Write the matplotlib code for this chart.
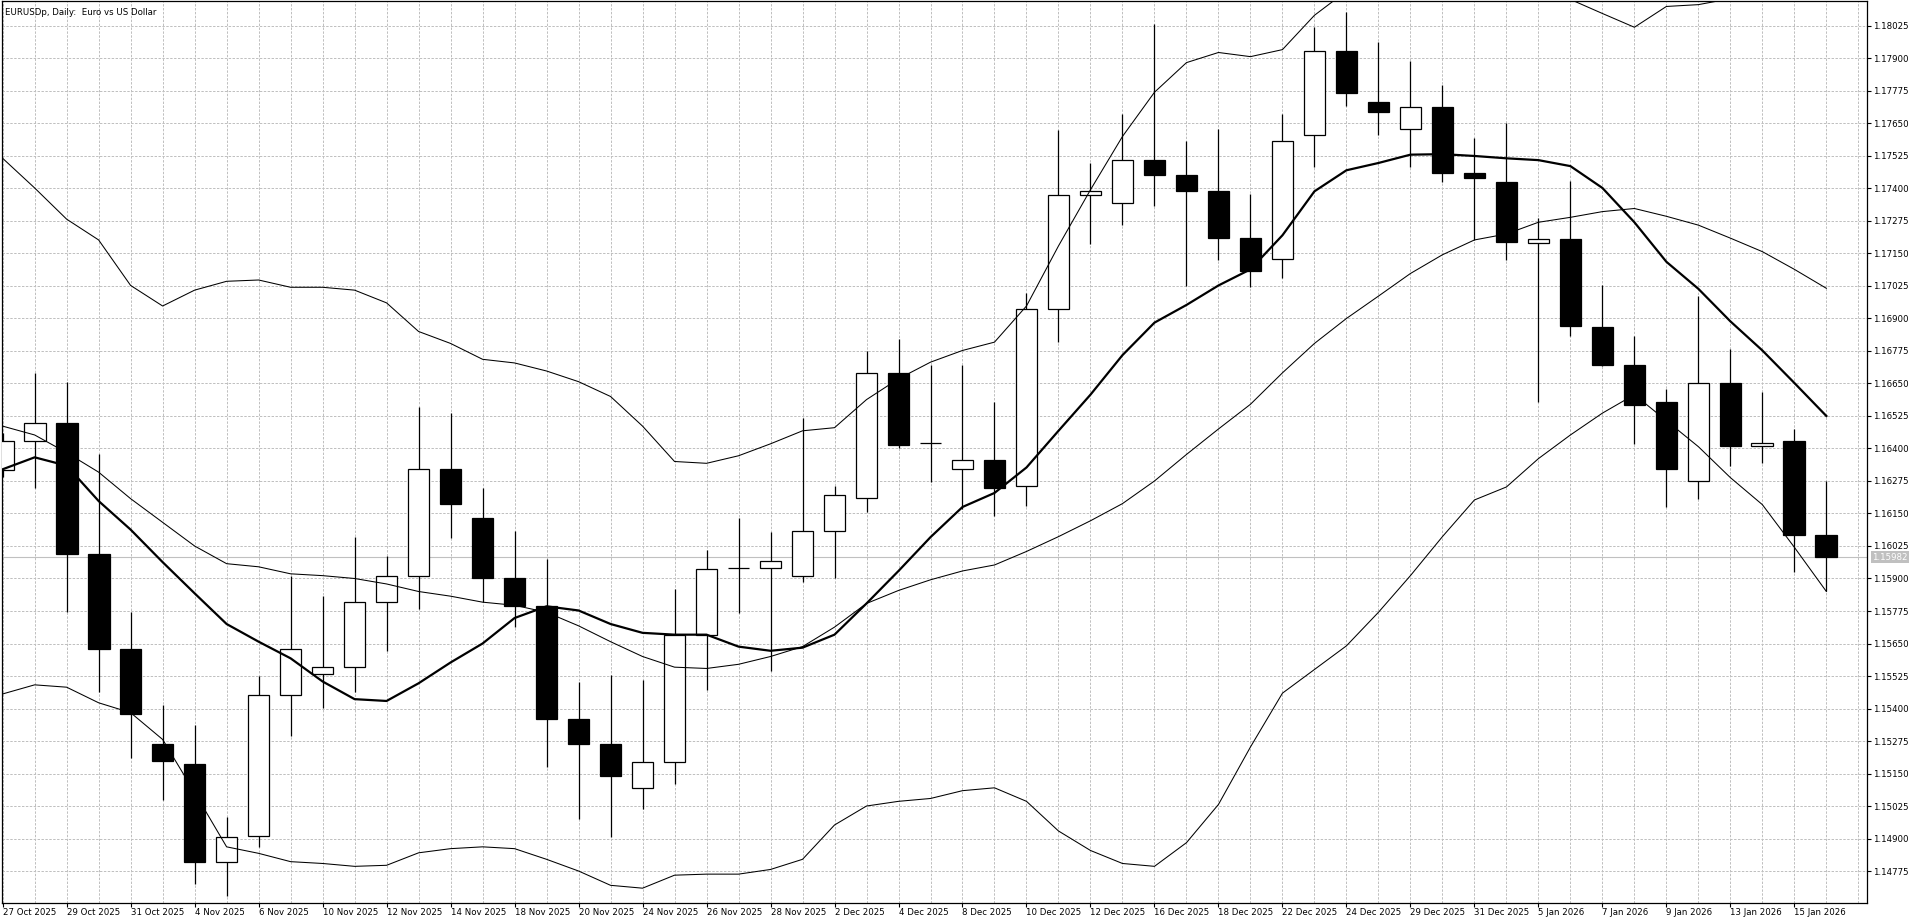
import matplotlib
matplotlib.use("Agg")
import matplotlib.pyplot as plt
import matplotlib.transforms as mtransforms
from datetime import datetime

# ---------- data ----------
dates = [
    "2025-10-27", "2025-10-28", "2025-10-29", "2025-10-30", "2025-10-31",
    "2025-11-03", "2025-11-04", "2025-11-05", "2025-11-06", "2025-11-07",
    "2025-11-10", "2025-11-11", "2025-11-12", "2025-11-13", "2025-11-14",
    "2025-11-17", "2025-11-18", "2025-11-19", "2025-11-20", "2025-11-21",
    "2025-11-24", "2025-11-25", "2025-11-26", "2025-11-27", "2025-11-28",
    "2025-12-01", "2025-12-02", "2025-12-03", "2025-12-04", "2025-12-05",
    "2025-12-08", "2025-12-09", "2025-12-10", "2025-12-11", "2025-12-12",
    "2025-12-15", "2025-12-16", "2025-12-17", "2025-12-18", "2025-12-19",
    "2025-12-22", "2025-12-23", "2025-12-24", "2025-12-26", "2025-12-29",
    "2025-12-30", "2025-12-31", "2026-01-02", "2026-01-05", "2026-01-06",
    "2026-01-07", "2026-01-08", "2026-01-09", "2026-01-12", "2026-01-13",
    "2026-01-14", "2026-01-15", "2026-01-16",
]

opens = [
    1.16316, 1.16429, 1.16498, 1.15993, 1.15629, 1.15263, 1.15186, 1.14811, 1.14911, 1.15452,
    1.15532, 1.15559, 1.15809, 1.15911, 1.16322, 1.16134, 1.15902, 1.15793, 1.15361, 1.15263,
    1.15095, 1.15195, 1.15684, 1.15940, 1.15941, 1.15911, 1.16082, 1.16209, 1.16691, 1.16423,
    1.16320, 1.16357, 1.16257, 1.16936, 1.17373, 1.17345, 1.17509, 1.17452, 1.17389, 1.17209,
    1.17129, 1.17607, 1.17930, 1.17732, 1.17630, 1.17714, 1.17461, 1.17423, 1.17189, 1.17207,
    1.16868, 1.16720, 1.16577, 1.16275, 1.16652, 1.16411, 1.16429, 1.16066,
]
highs = [
    1.16460, 1.16691, 1.16657, 1.16377, 1.15770, 1.15413, 1.15338, 1.14981, 1.15525, 1.15911,
    1.15834, 1.16061, 1.15986, 1.16561, 1.16536, 1.16248, 1.16082, 1.15975, 1.15502, 1.15527,
    1.15509, 1.15861, 1.16009, 1.16134, 1.16077, 1.16516, 1.16254, 1.16775, 1.16820, 1.16720,
    1.16720, 1.16577, 1.16998, 1.17623, 1.17498, 1.17686, 1.18032, 1.17582, 1.17627, 1.17379,
    1.17686, 1.18020, 1.18077, 1.17964, 1.17889, 1.17798, 1.17593, 1.17650, 1.17286, 1.17430,
    1.17027, 1.16832, 1.16627, 1.16986, 1.16782, 1.16618, 1.16475, 1.16275,
]
lows = [
    1.16290, 1.16248, 1.15770, 1.15463, 1.15209, 1.15047, 1.14725, 1.14679, 1.14868, 1.15293,
    1.15402, 1.15463, 1.15622, 1.15782, 1.16054, 1.15809, 1.15713, 1.15175, 1.14975, 1.14906,
    1.15013, 1.15111, 1.15470, 1.15766, 1.15543, 1.15888, 1.15902, 1.16157, 1.16400, 1.16270,
    1.16168, 1.16141, 1.16179, 1.16809, 1.17186, 1.17259, 1.17334, 1.17025, 1.17123, 1.17020,
    1.17054, 1.17482, 1.17718, 1.17607, 1.17482, 1.17425, 1.17202, 1.17123, 1.16577, 1.16832,
    1.16718, 1.16418, 1.16175, 1.16207, 1.16334, 1.16345, 1.15925, 1.15850,
]
closes = [
    1.16429, 1.16498, 1.15993, 1.15629, 1.15377, 1.15197, 1.14811, 1.14906, 1.15452, 1.15627,
    1.15559, 1.15809, 1.15911, 1.16322, 1.16186, 1.15900, 1.15793, 1.15361, 1.15263, 1.15141,
    1.15195, 1.15684, 1.15936, 1.15942, 1.15968, 1.16082, 1.16220, 1.16691, 1.16413, 1.16423,
    1.16357, 1.16248, 1.16936, 1.17373, 1.17389, 1.17509, 1.17452, 1.17389, 1.17209, 1.17082,
    1.17582, 1.17930, 1.17766, 1.17695, 1.17714, 1.17459, 1.17441, 1.17195, 1.17207, 1.16870,
    1.16720, 1.16568, 1.16320, 1.16652, 1.16411, 1.16423, 1.16066, 1.15982,
]

# Bollinger bands (upper / middle / lower) and the thick moving average
bb_upper = [
    1.17516, 1.17402, 1.17282, 1.17202, 1.17027, 1.16948, 1.17009, 1.17043, 1.17048, 1.17020,
    1.17020, 1.17009, 1.16960, 1.16850, 1.16804, 1.16743, 1.16729, 1.16698, 1.16657, 1.16600,
    1.16486, 1.16350, 1.16343, 1.16372, 1.16418, 1.16468, 1.16480, 1.16588, 1.16668, 1.16732,
    1.16777, 1.16809, 1.16948, 1.17179, 1.17395, 1.17600, 1.17770, 1.17884, 1.17923, 1.17907,
    1.17934, 1.18066, 1.18159, 1.18202, 1.18235, 1.18229, 1.18202, 1.18198, 1.18179, 1.18127,
    1.18073, 1.18020, 1.18100, 1.18107, 1.18130, 1.18130, 1.18158, 1.18182,
]
bb_middle = [
    1.16486, 1.16452, 1.16384, 1.16309, 1.16207, 1.16116, 1.16025, 1.15957, 1.15945, 1.15918,
    1.15911, 1.15900, 1.15879, 1.15850, 1.15832, 1.15809, 1.15797, 1.15770, 1.15718, 1.15657,
    1.15600, 1.15559, 1.15554, 1.15570, 1.15600, 1.15638, 1.15713, 1.15804, 1.15854, 1.15895,
    1.15929, 1.15952, 1.16004, 1.16061, 1.16122, 1.16188, 1.16275, 1.16377, 1.16475, 1.16570,
    1.16691, 1.16804, 1.16900, 1.16986, 1.17073, 1.17145, 1.17202, 1.17225, 1.17270, 1.17289,
    1.17311, 1.17323, 1.17293, 1.17259, 1.17209, 1.17157, 1.17089, 1.17016,
]
bb_lower = [
    1.15456, 1.15491, 1.15482, 1.15422, 1.15384, 1.15281, 1.15077, 1.14868, 1.14843, 1.14811,
    1.14804, 1.14793, 1.14797, 1.14845, 1.14861, 1.14868, 1.14861, 1.14820, 1.14775, 1.14720,
    1.14709, 1.14759, 1.14763, 1.14763, 1.14781, 1.14820, 1.14952, 1.15025, 1.15043, 1.15054,
    1.15084, 1.15095, 1.15043, 1.14929, 1.14854, 1.14804, 1.14793, 1.14884, 1.15031, 1.15252,
    1.15459, 1.15550, 1.15641, 1.15770, 1.15911, 1.16061, 1.16202, 1.16252, 1.16361, 1.16452,
    1.16536, 1.16607, 1.16507, 1.16407, 1.16288, 1.16184, 1.16020, 1.15850,
]
ma_line = [
    1.16320, 1.16366, 1.16334, 1.16198, 1.16088, 1.15963, 1.15843, 1.15725, 1.15657, 1.15593,
    1.15504, 1.15436, 1.15429, 1.15497, 1.15577, 1.15650, 1.15748, 1.15793, 1.15777, 1.15725,
    1.15691, 1.15684, 1.15684, 1.15638, 1.15622, 1.15634, 1.15684, 1.15804, 1.15929, 1.16059,
    1.16175, 1.16229, 1.16327, 1.16468, 1.16607, 1.16759, 1.16884, 1.16952, 1.17027, 1.17089,
    1.17220, 1.17389, 1.17470, 1.17498, 1.17530, 1.17532, 1.17525, 1.17516, 1.17509, 1.17486,
    1.17402, 1.17270, 1.17118, 1.17014, 1.16889, 1.16777, 1.16652, 1.16525,
]

last_price = 1.15982
price_ticks = [1.14775 + 0.00125 * k for k in range(27)]
title = "EURUSDp, Daily:  Euro vs US Dollar"

# ---------- figure ----------
W, H, DPI = 1920, 923, 100
fig = plt.figure(figsize=(W / DPI, H / DPI), dpi=DPI, facecolor="white")
ax = fig.add_axes([2 / W, 20 / H, 1865 / W, 902 / H])
ax.set_facecolor("white")

FS = 6.2
GRID = "#c0c0c0"
DASH = (0, (2.4, 1.5))
x = list(range(len(dates)))

ax.set_xlim(-0.02, 58.27)
ax.set_ylim(1.14652, 1.18121)

# grid: every price tick and every bar
for xv in range(0, 59):
    ax.axvline(xv, color=GRID, lw=0.72, ls=DASH, zorder=0)
for yv in price_ticks:
    ax.axhline(yv, color=GRID, lw=0.72, ls=DASH, zorder=0)

# last price line
ax.axhline(last_price, color=GRID, lw=0.8, zorder=1)

# candles
ax.vlines(x, lows, highs, color="black", lw=0.9, zorder=2)
bottoms = [min(o, c) for o, c in zip(opens, closes)]
heights = [abs(c - o) for o, c in zip(opens, closes)]
faces = ["white" if c >= o else "black" for o, c in zip(opens, closes)]
ax.bar(x, heights, bottom=bottoms, width=0.68, color=faces,
       edgecolor="black", linewidth=0.9, zorder=3)

# indicators on top
ax.plot(x, bb_upper, color="black", lw=0.75, zorder=4)
ax.plot(x, bb_middle, color="black", lw=0.75, zorder=4)
ax.plot(x, bb_lower, color="black", lw=0.75, zorder=4)
ax.plot(x, ma_line, color="black", lw=1.6, zorder=5)

# axes look
for sp in ax.spines.values():
    sp.set_color("black")
    sp.set_linewidth(0.9)

ax.yaxis.tick_right()
ax.set_yticks(price_ticks)
ax.set_yticklabels([f"{v:.5f}" for v in price_ticks])
ax.tick_params(axis="y", direction="out", length=3, width=0.8, pad=1.5,
               labelsize=FS, colors="black")

lbl_idx = list(range(0, len(dates), 2))
lbl_txt = []
for i in lbl_idx:
    d = datetime.strptime(dates[i], "%Y-%m-%d")
    lbl_txt.append(f"{d.day} {d.strftime('%b %Y')}")
ax.set_xticks(lbl_idx)
ax.set_xticklabels(lbl_txt)
ax.tick_params(axis="x", direction="out", length=3, width=0.8, pad=0.5,
               labelsize=FS, colors="black")
for t in ax.get_xticklabels():
    t.set_horizontalalignment("left")

# title
ax.text(3 / 1865, 0.992, title, transform=ax.transAxes, fontsize=FS,
        ha="left", va="top", color="black", zorder=6)

# last price tag on the axis
tr = mtransforms.blended_transform_factory(ax.transAxes, ax.transData)
ax.text(1.0 + 5 / 1865, last_price, f"{last_price:.5f}", transform=tr,
        fontsize=FS, color="white", ha="left", va="center", clip_on=False,
        bbox=dict(boxstyle="square,pad=0.15", fc=GRID, ec="none"), zorder=7)

fig.savefig("out.png", dpi=DPI, facecolor="white")
